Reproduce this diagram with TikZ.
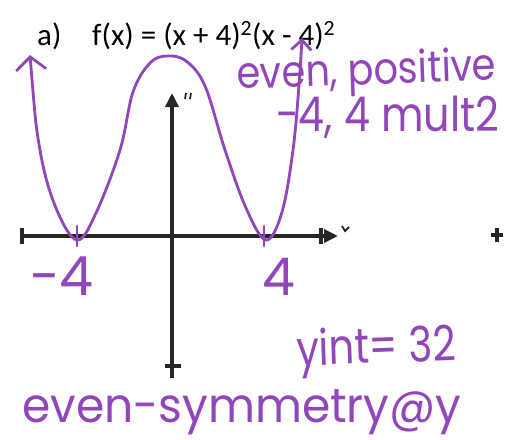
\documentclass[tikz,border=0pt]{standalone}
\usepackage{fontspec}
\setmainfont{Carlito}
\newfontfamily\handfont{Poppins}
\usetikzlibrary{arrows.meta,positioning}
\definecolor{marker}{RGB}{145,70,185}

\begin{document}
\begin{tikzpicture}[x=1pt,y=-1pt,
  axis/.style={line width=3.4pt,black!85},
  pen/.style={line width=2.8pt,marker,line cap=round,line join=round},
  hand/.style={marker,inner sep=0pt,anchor=base west,font=\handfont\fontsize{50}{50}\selectfont}]
\useasboundingbox[fill=white] (0,0) rectangle (505,439);
\node[anchor=base west,inner sep=0pt,font=\fontsize{31}{34}\selectfont] (part) at (37,45) {a)};
\node[anchor=base west,inner sep=0pt,font=\fontsize{31}{34}\selectfont] (func) at (92,45) {f(x) = (x + 4)\textsuperscript{2}(x - 4)\textsuperscript{2}};
% axes
\coordinate (xl) at (22,236); \coordinate (xr) at (338,236);
\coordinate (yb) at (172,378); \coordinate (yt) at (172,93);
\draw[axis,-{Triangle[length=14pt,width=13pt]}] (xl) -- (xr);
\draw[axis,-{Triangle[length=14pt,width=13pt]}] (yb) -- (yt);
\foreach \x in {22,321}{\draw[axis] (\x,228) -- (\x,244);}
\draw[axis] (165,366) -- (181,366);
\draw[axis] (497,228) -- (497,242) (491,235) -- (503,235);
\draw[line width=1.8pt,black!85] (186,93) -- (185,99) (191,93) -- (190,99);
\draw[line width=1.8pt,black!85] (342,226) -- (345,231) -- (349,227);
% curve
\draw[pen,{Straight Barb[length=13pt,width=30pt]}-{Straight Barb[length=10pt,width=20pt]}]
  plot[smooth,tension=0.6] coordinates {(30,55) (40,150) (56,208) (77,240) (96,213) (120,150) (133,92) (150,63) (167,56) (186,61) (205,86) (225,150) (246,208) (266,240) (282,212) (293,150) (299,85) (302,38)};
\foreach \x in {77,264}{\draw[pen] (\x,226) -- (\x,246);}
% notes
\node[hand,font=\handfont\fontsize{44}{44}\selectfont,rotate=2,xscale=0.87] (even) at (237,89) {even, positive};
\node[hand,font=\handfont\fontsize{48}{48}\selectfont,xscale=0.86] (mult) at (276,131) {-4, 4 mult2};
\node[hand,font=\handfont\fontsize{54}{54}\selectfont] (neg) at (30,295) {-4};
\node[hand,font=\handfont\fontsize{52}{52}\selectfont] (pos) at (262,295) {4};
\node[hand,font=\handfont\fontsize{49}{49}\selectfont,rotate=2,xscale=0.82] (yint) at (297,366) {yint= 32};
\node[hand,font=\handfont\fontsize{48}{48}\selectfont,xscale=0.95] (sym) at (22,422) {even-symmetry@y};
\end{tikzpicture}
\end{document}
